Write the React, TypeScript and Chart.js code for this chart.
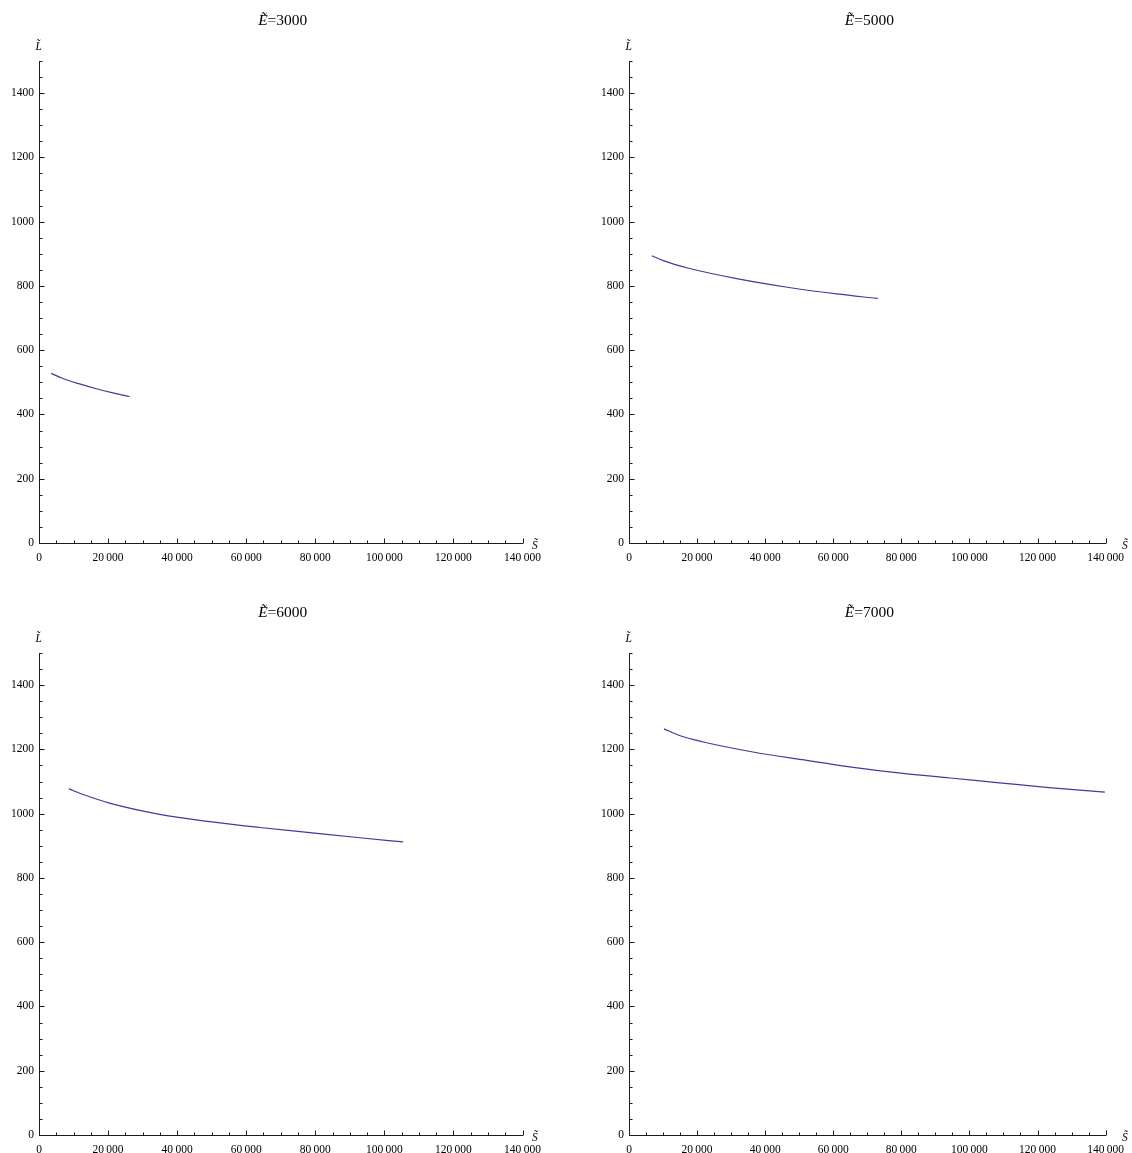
import React, { useEffect, useRef } from 'react';
import { Chart, registerables } from 'chart.js';

Chart.register(...registerables);

// ---- data ----
const xTickValues = [0, 20000, 40000, 60000, 80000, 100000, 120000, 140000];
const xTickLabels = ['0', '20\u2009000', '40\u2009000', '60\u2009000', '80\u2009000', '100\u2009000', '120\u2009000', '140\u2009000'];
const yTickValues = [0, 200, 400, 600, 800, 1000, 1200, 1400];
const yTickLabels = ['0', '200', '400', '600', '800', '1000', '1200', '1400'];

const energies = ['3000', '5000', '6000', '7000'];

const s3000 = [3536, 6900, 11740, 16580, 21390, 26230];
const l3000 = [528, 512, 495, 480, 467, 456];

const s5000 = [6725, 10290, 17540, 32030, 46520, 61010, 73100];
const l5000 = [894, 878, 855, 822, 796, 775, 761];

const s6000 = [8640, 13190, 20430, 34930, 49420, 63910, 78410, 92900, 105450];
const l6000 = [1077, 1058, 1033, 998, 975, 957, 941, 925, 912];

const s7000 = [10290, 14640, 21880, 36380, 50870, 65360, 79860, 94350, 108840, 123330, 139770];
const l7000 = [1264, 1244, 1223, 1192, 1168, 1145, 1126, 1111, 1096, 1081, 1067];

const seriesS = [s3000, s5000, s6000, s7000];
const seriesL = [l3000, l5000, l6000, l7000];

// ---- layout / style ----
const FONT = '"Liberation Serif", "DejaVu Serif", serif';
const LINE = '#3d3d9e';
const AXIS = '#1a1a1a';
const PANEL_POS = [
  { left: 0, top: 0, w: 590 },
  { left: 590, top: 0, w: 542 },
  { left: 0, top: 592, w: 590 },
  { left: 590, top: 592, w: 542 },
];
const PANEL_H = 592;
const PLOT_RIGHT = 522.5;

const mmaPlugin = {
  id: 'mmaAxes',
  afterDraw(chart: any) {
    const { ctx, chartArea } = chart;
    const x = chart.scales.x;
    const y = chart.scales.y;
    const energy: string = chart.options.plugins.mmaAxes.energy;
    ctx.save();
    ctx.strokeStyle = AXIS;
    ctx.lineWidth = 1;
    ctx.beginPath();
    const bottom = Math.round(chartArea.bottom) + 0.5;
    const left = Math.round(chartArea.left) + 0.5;
    for (let v = 0; v <= 140000; v += 5000) {
      const px = Math.round(x.getPixelForValue(v)) + 0.5;
      const len = v % 20000 === 0 ? 5 : 3;
      ctx.moveTo(px, bottom);
      ctx.lineTo(px, bottom - len);
    }
    for (let v = 0; v <= 1500; v += 50) {
      const py = Math.round(y.getPixelForValue(v)) + 0.5;
      const len = v % 200 === 0 ? 5 : 3;
      ctx.moveTo(left, py);
      ctx.lineTo(left + len, py);
    }
    ctx.stroke();

    // title: italic E-tilde, then "=value"
    ctx.fillStyle = '#000';
    ctx.textBaseline = 'alphabetic';
    ctx.textAlign = 'left';
    const italic = 'italic 15.5px ' + FONT;
    const normal = '15.5px ' + FONT;
    ctx.font = italic;
    const e = 'E\u0303';
    const we = ctx.measureText(e).width;
    ctx.font = normal;
    const rest = '=' + energy;
    const wr = ctx.measureText(rest).width;
    const cx = (chartArea.left + chartArea.right) / 2 + 2;
    const x0 = cx - (we + wr) / 2;
    ctx.font = italic;
    ctx.fillText(e, x0, 25);
    ctx.font = normal;
    ctx.fillText(rest, x0 + we, 25);

    // axis labels
    ctx.font = 'italic 11.5px ' + FONT;
    ctx.fillText('L\u0303', 35.5, 49.5);
    ctx.fillText('S\u0303', 532, 549);
    ctx.restore();
  },
};

function Panel({ idx }: { idx: number }) {
  const ref = useRef<HTMLCanvasElement>(null);
  const pos = PANEL_POS[idx];
  useEffect(() => {
    const s = seriesS[idx];
    const l = seriesL[idx];
    const chart = new Chart(ref.current as HTMLCanvasElement, {
      type: 'scatter',
      data: {
        datasets: [
          {
            data: s.map((v, i) => ({ x: v, y: l[i] })),
            showLine: true,
            borderColor: LINE,
            borderWidth: 1.2,
            pointRadius: 0,
            cubicInterpolationMode: 'monotone',
            fill: false,
          } as any,
        ],
      },
      options: {
        responsive: false,
        animation: false,
        devicePixelRatio: 1,
        layout: { padding: { left: 0, top: 61, right: pos.w - PLOT_RIGHT, bottom: 0 } },
        plugins: {
          legend: { display: false },
          tooltip: { enabled: false },
          title: { display: false },
          mmaAxes: { energy: energies[idx] },
        } as any,
        scales: {
          x: {
            type: 'linear',
            min: 0,
            max: 140000,
            grid: { display: false, drawTicks: false, tickLength: 0 },
            border: { display: true, color: AXIS, width: 1 },
            afterBuildTicks: (sc: any) => {
              sc.ticks = xTickValues.map((v) => ({ value: v }));
            },
            afterFit: (sc: any) => {
              sc.height = 49;
            },
            ticks: {
              autoSkip: false,
              maxRotation: 0,
              minRotation: 0,
              padding: 8,
              color: '#000',
              font: { family: FONT, size: 11.5 },
              callback: (_v: any, i: number) => xTickLabels[i],
            },
          } as any,
          y: {
            type: 'linear',
            min: 0,
            max: 1500,
            grid: { display: false, drawTicks: false, tickLength: 0 },
            border: { display: true, color: AXIS, width: 1 },
            afterBuildTicks: (sc: any) => {
              sc.ticks = yTickValues.map((v) => ({ value: v }));
            },
            afterFit: (sc: any) => {
              sc.width = 39;
            },
            ticks: {
              autoSkip: false,
              padding: 5,
              color: '#000',
              font: { family: FONT, size: 11.5 },
              callback: (_v: any, i: number) => yTickLabels[i],
            },
          } as any,
        },
      },
      plugins: [mmaPlugin],
    });
    return () => chart.destroy();
  }, [idx]);
  return (
    <canvas
      ref={ref}
      width={pos.w}
      height={PANEL_H}
      style={{ position: 'absolute', left: pos.left, top: pos.top, width: pos.w, height: PANEL_H, display: 'block' }}
    />
  );
}

export default function App() {
  return (
    <div style={{ position: 'absolute', left: 0, top: 0, width: 1132, height: 1153, overflow: 'hidden', background: '#fff' }}>
      {energies.map((_, i) => (
        <Panel key={i} idx={i} />
      ))}
    </div>
  );
}
